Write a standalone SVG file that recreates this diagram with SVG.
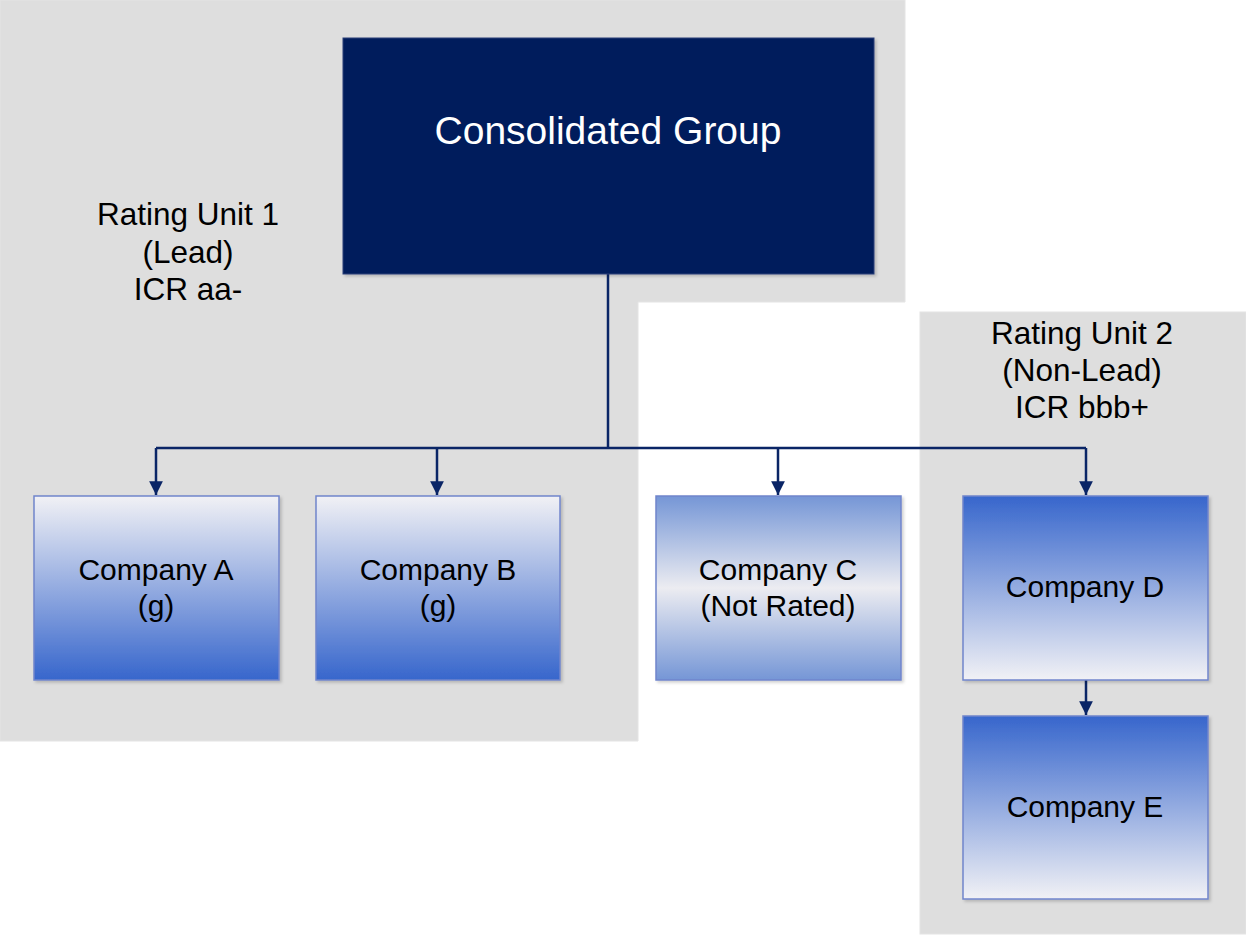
<svg xmlns="http://www.w3.org/2000/svg" width="1246" height="935" viewBox="0 0 1246 935">
<defs>
<linearGradient id="gUp" x1="0" y1="0" x2="0" y2="1">
<stop offset="0" stop-color="#f1f1f5"/>
<stop offset="1" stop-color="#3766cc"/>
</linearGradient>
<linearGradient id="gDown" x1="0" y1="0" x2="0" y2="1">
<stop offset="0" stop-color="#3766cc"/>
<stop offset="1" stop-color="#f1f1f5"/>
</linearGradient>
<linearGradient id="gMid" x1="0" y1="0" x2="0" y2="1">
<stop offset="0" stop-color="#7596d6"/>
<stop offset="0.5" stop-color="#ececf1"/>
<stop offset="1" stop-color="#7596d6"/>
</linearGradient>
<filter id="sh" x="-5%" y="-5%" width="115%" height="115%">
<feDropShadow dx="2" dy="2" stdDeviation="1.5" flood-color="#000" flood-opacity="0.18"/>
</filter>
<marker id="arr" viewBox="0 0 10 10" refX="10" refY="5" markerWidth="5.5" markerHeight="5.5" markerUnits="strokeWidth" orient="auto">
<path d="M0,0 L10,5 L0,10 Z" fill="#0a2566"/>
</marker>
<style>
.panel{fill:#dedede;stroke:#e4e4e4;stroke-width:1}
.box{stroke:#7085cc;stroke-width:1.5;filter:url(#sh)}
.t{font-family:"Liberation Sans",Arial,sans-serif;fill:#000;text-anchor:middle}
.lbl{font-size:31.5px}
.co{font-size:30px}
.con{fill:none;stroke:#0a2566;stroke-width:2.5}
</style>
</defs>
<rect width="1246" height="935" fill="#ffffff"/>
<g id="rating-unit-1">
<path class="panel" d="M0,0 H905 V302 H638 V741 H0 Z"/>
<text class="t lbl" x="188" y="225">Rating Unit 1</text>
<text class="t lbl" x="188" y="263">(Lead)</text>
<text class="t lbl" x="188" y="300">ICR aa-</text>
</g>
<g id="rating-unit-2">
<rect class="panel" x="920" y="312" width="326" height="622"/>
<text class="t lbl" x="1082" y="344">Rating Unit 2</text>
<text class="t lbl" x="1082" y="381">(Non-Lead)</text>
<text class="t lbl" x="1082" y="418">ICR bbb+</text>
</g>
<g id="connectors">
<path class="con" d="M608,274 V448"/>
<path class="con" d="M156,448 H1086"/>
<path class="con" d="M156,448 V495" marker-end="url(#arr)"/>
<path class="con" d="M437,448 V495" marker-end="url(#arr)"/>
<path class="con" d="M778,448 V495" marker-end="url(#arr)"/>
<path class="con" d="M1086,448 V495" marker-end="url(#arr)"/>
<path class="con" d="M1086,680 V715" marker-end="url(#arr)"/>
</g>
<g id="consolidated-group">
<rect x="343" y="38" width="531" height="236" fill="#001f5b" stroke="#2a3f78" stroke-width="1" filter="url(#sh)"/>
<text class="t" x="608" y="144" font-size="39" style="fill:#ffffff">Consolidated Group</text>
</g>
<g id="company-a">
<rect class="box" x="34" y="496" width="245" height="184" fill="url(#gUp)"/>
<text class="t co" x="156" y="580">Company A</text>
<text class="t co" x="156" y="616">(g)</text>
</g>
<g id="company-b">
<rect class="box" x="316" y="496" width="244" height="184" fill="url(#gUp)"/>
<text class="t co" x="438" y="580">Company B</text>
<text class="t co" x="438" y="616">(g)</text>
</g>
<g id="company-c">
<rect class="box" x="656" y="496" width="245" height="184" fill="url(#gMid)"/>
<text class="t co" x="778" y="580">Company C</text>
<text class="t co" x="778" y="616">(Not Rated)</text>
</g>
<g id="company-d">
<rect class="box" x="963" y="496" width="245" height="184" fill="url(#gDown)"/>
<text class="t co" x="1085" y="597">Company D</text>
</g>
<g id="company-e">
<rect class="box" x="963" y="716" width="245" height="183" fill="url(#gDown)"/>
<text class="t co" x="1085" y="817">Company E</text>
</g>
</svg>
